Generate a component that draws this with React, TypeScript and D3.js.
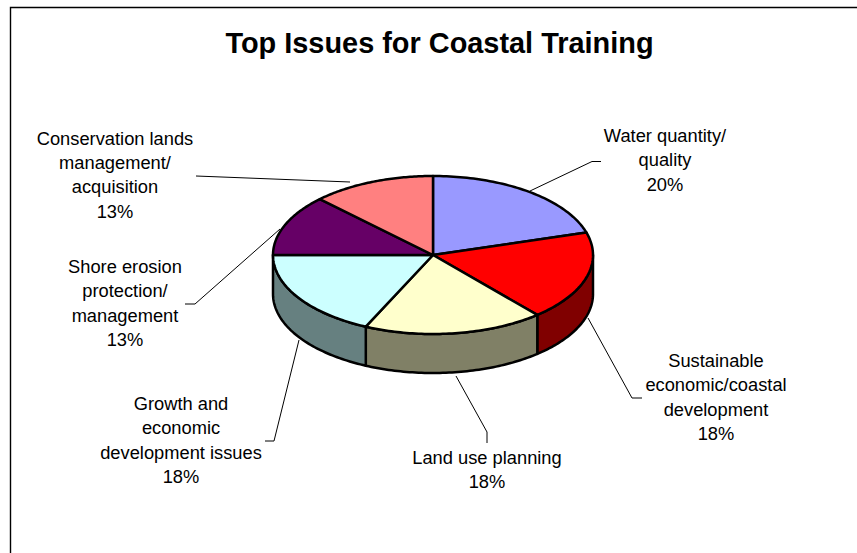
import React from "react";
import * as d3 from "d3";

const categories = [
  ["Water quantity/", "quality"],
  ["Sustainable", "economic/coastal", "development"],
  ["Land use planning"],
  ["Growth and", "economic", "development issues"],
  ["Shore erosion", "protection/", "management"],
  ["Conservation lands", "management/", "acquisition"],
];
const shares = [20.4, 18.3, 18.2, 18.1, 12.5, 12.5];
const topColors = ["#9999FF", "#FF0000", "#FFFFCC", "#CCFFFF", "#660066", "#FF8080"];
const wallColors = ["#4C4C80", "#800000", "#808066", "#668080", "#330033", "#804040"];

// Label placement: centre x and the baseline of the first line.
const labelAnchors = [
  [665, 142],
  [716, 367],
  [487, 464],
  [181, 410],
  [125, 273],
  [115, 144.5],
];
const leaderPaths: [number, number][][] = [
  [[530, 191], [592, 161.5], [601, 161.5]],
  [[588, 318], [632, 398], [642, 398]],
  [[456, 376], [487, 432], [487, 443]],
  [[299, 340], [274, 441], [265, 441]],
  [[280, 229], [195, 304], [185, 304]],
  [[196, 176], [350, 182]],
];

const W = 857;
const H = 553;
const CX = 433;
const CY = 255;
const RX = 160;
const RY = 79;
const DEPTH = 39;
const LINE_STEP = 24.4;
const FONT = "'Liberation Sans', Arial, sans-serif";

// Pie angles run clockwise from twelve o'clock; the disc is squashed into an ellipse.
const px = (a: number) => CX + RX * Math.sin(a);
const py = (a: number) => CY - RY * Math.cos(a);

const arcPoints = (a0: number, a1: number): [number, number][] =>
  d3.range(0, 61).map((i) => {
    const a = d3.interpolateNumber(a0, a1)(i / 60);
    return [px(a), py(a)];
  });

const line = d3.line();

export default function App() {
  const slices = d3.pie<number>().sort(null)(shares);

  // The side wall is only visible on the front half of the disc.
  const walls = slices
    .map((s, i) => ({
      i,
      a0: Math.max(s.startAngle, Math.PI / 2),
      a1: Math.min(s.endAngle, (3 * Math.PI) / 2),
    }))
    .filter((w) => w.a1 > w.a0);

  return (
    <svg
      width={W}
      height={H}
      viewBox={`0 0 ${W} ${H}`}
      style={{ position: "absolute", left: 0, top: 0, background: "#fff" }}
    >
      <path d={`M10.5 553V7.5H857`} fill="none" stroke="#000" strokeWidth={1.4} />
      <text
        x={439.5}
        y={52.5}
        textAnchor="middle"
        fontFamily={FONT}
        fontWeight="bold"
        fontSize={28.9}
        fill="#000"
      >
        Top Issues for Coastal Training
      </text>

      {leaderPaths.map((p, i) => (
        <path key={i} d={line(p) ?? ""} fill="none" stroke="#000" strokeWidth={1} />
      ))}

      {walls.map((w) => {
        const upper = arcPoints(w.a0, w.a1);
        const lower = upper.map(([x, y]) => [x, y + DEPTH] as [number, number]).reverse();
        return (
          <path
            key={w.i}
            d={(line([...upper, ...lower]) ?? "") + "Z"}
            fill={wallColors[w.i]}
            stroke="#000"
            strokeWidth={2.5}
            strokeLinejoin="round"
          />
        );
      })}

      {slices.map((s, i) => {
        const rim = arcPoints(s.startAngle, s.endAngle);
        return (
          <path
            key={i}
            d={(line([[CX, CY], ...rim]) ?? "") + "Z"}
            fill={topColors[i]}
            stroke="#000"
            strokeWidth={2.5}
            strokeLinejoin="round"
          />
        );
      })}

      {categories.map((rows, i) => {
        const [x, y] = labelAnchors[i];
        return (
          <text key={i} textAnchor="middle" fontFamily={FONT} fontSize={18.3} fill="#000">
            {[...rows, `${Math.round(shares[i])}%`].map((t, j) => (
              <tspan key={j} x={x} y={y + j * LINE_STEP}>
                {t}
              </tspan>
            ))}
          </text>
        );
      })}
    </svg>
  );
}
